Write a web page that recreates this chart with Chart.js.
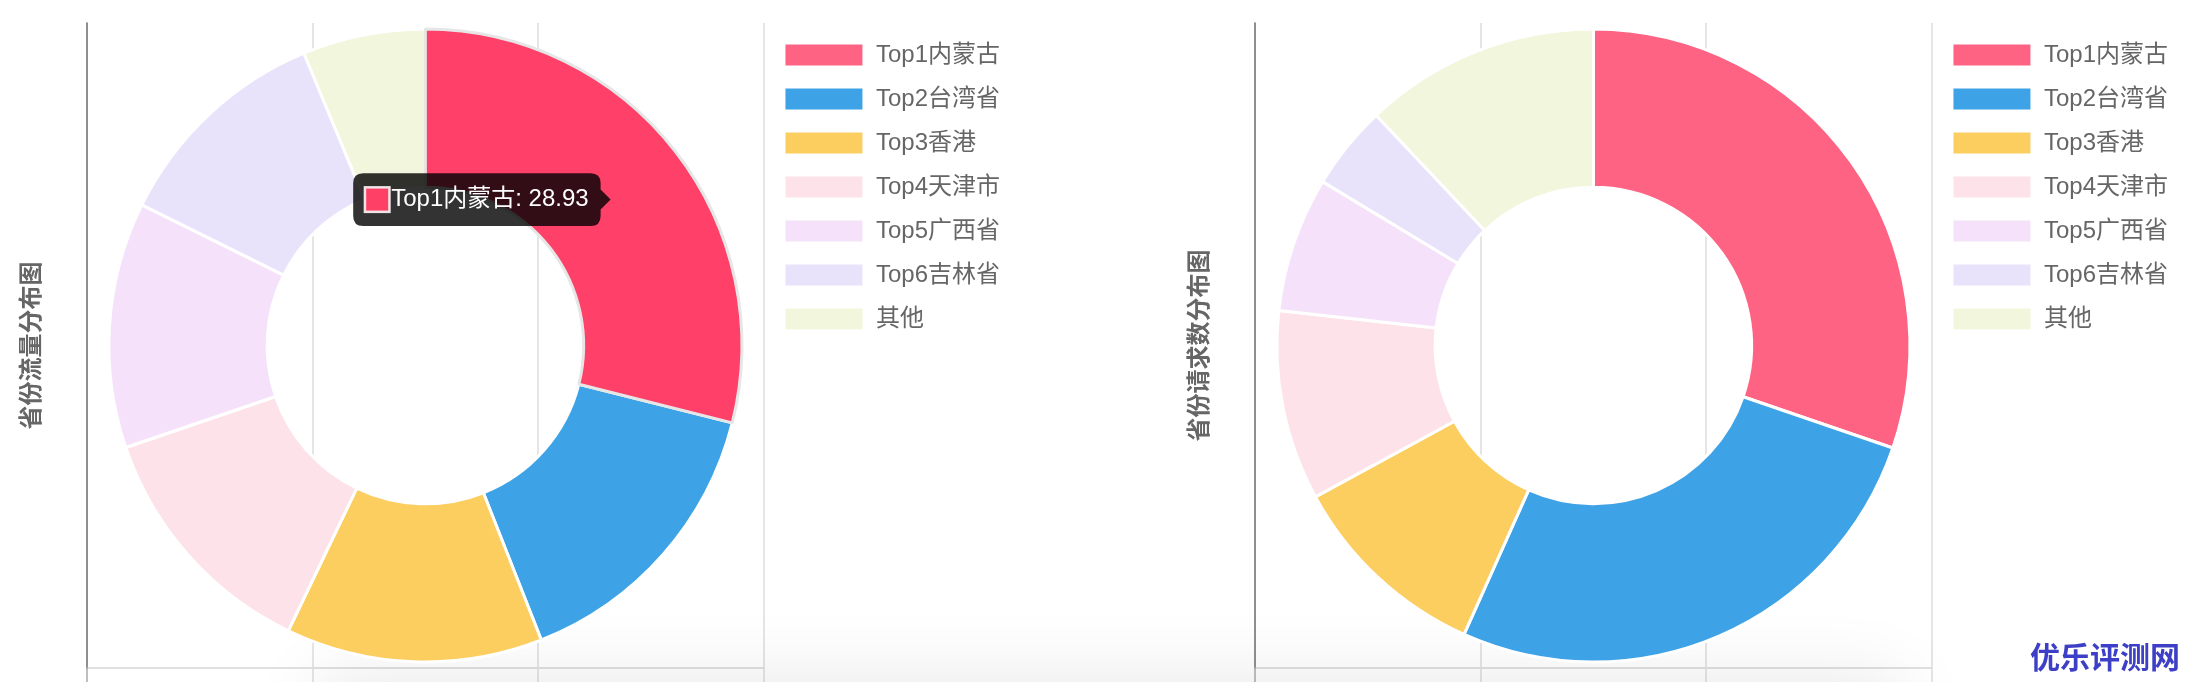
<!DOCTYPE html>
<html>
<head>
<meta charset="utf-8">
<script src="https://cdn.jsdelivr.net/npm/chart.js@4/dist/chart.umd.min.js"></script>
<style>
  html, body { margin: 0; padding: 0; background: #fff; overflow: hidden; }
  body { width: 2188px; height: 682px; position: relative; }
  .shade { position: absolute; left: 330px; top: 690px; width: 1560px; height: 200px;
           box-shadow: 0 0 70px 12px rgba(0,0,0,0.09); background: #f2f2f2; }
  .box { position: absolute; top: 0; width: 1010px; height: 682px; }
  .mark { position: absolute; left: 2030px; top: 633px; font: bold 30px "Noto Sans CJK SC", sans-serif;
          color: #3d3fc6; letter-spacing: 0; }
</style>
</head>
<body>
<div class="shade"></div>
<div class="box" style="left:0"><canvas id="chart-1" width="1010" height="682"></canvas></div>
<div class="box" style="left:1168px"><canvas id="chart-2" width="1010" height="682"></canvas></div>
<div class="mark">优乐评测网</div>
<script>
// provinces, top 6 + rest (percent)
const provinces = ['Top1内蒙古', 'Top2台湾省', 'Top3香港', 'Top4天津市', 'Top5广西省', 'Top6吉林省', '其他'];
const trafficShare = [28.93, 15.1, 13.1, 12.65, 12.55, 11.4, 6.27];
const requestShare = [30.25, 26.45, 10.36, 9.7, 6.9, 4.3, 12.04];
const sliceColors = ['#ff6384', '#3ea2e6', '#fccd5f', '#fde3e9', '#f5e2fa', '#e8e3fa', '#f2f6dd'];
const axisTitles = ['省份流量分布图', '省份请求数分布图'];

const fontFamily = "'Liberation Sans', Helvetica, Arial, 'Noto Sans CJK SC', sans-serif";
Chart.defaults.font.family = fontFamily;
Chart.defaults.color = '#666';

function makeChart(id, values, title, showTip) {
    var ctx = document.getElementById(id).getContext('2d');
    var chart = new Chart(ctx, {
        type: 'doughnut',
        data: {
            labels: provinces,
            datasets: [{
                data: values,
                backgroundColor: sliceColors,
                borderColor: '#fff',
                borderWidth: 3,
                hoverBorderWidth: 3,
                hoverOffset: 0
            }]
        },
        options: {
            responsive: false,
            devicePixelRatio: 1,
            animation: false,
            cutout: '50%',
            radius: '98.6%',
            layout: { padding: { left: 9, top: 23, right: 0, bottom: 0 } },
            scales: {
                x: {
                    type: 'linear',
                    position: 'bottom',
                    min: 0,
                    max: 3,
                    ticks: { display: false, stepSize: 1 },
                    grid: {
                        color: (c) => c.index === 0 ? 'rgba(0,0,0,0.25)' : 'rgba(0,0,0,0.1)',
                        lineWidth: 2,
                        tickLength: 14
                    },
                    border: { color: 'rgba(0,0,0,0.12)', width: 2 }
                },
                y: {
                    type: 'linear',
                    position: 'left',
                    ticks: { display: false },
                    grid: { display: false, drawTicks: false },
                    border: { color: 'rgba(0,0,0,0.25)', width: 2 },
                    title: {
                        display: true,
                        text: title,
                        color: '#666',
                        font: { size: 24, weight: 'bold' },
                        padding: { top: 9, bottom: 40 }
                    }
                }
            },
            plugins: {
                legend: {
                    position: 'right',
                    align: 'start',
                    labels: {
                        boxWidth: 80,
                        boxHeight: 24,
                        padding: 20,
                        color: '#666',
                        font: { size: 24 }
                    }
                },
                tooltip: {
                    enabled: true,
                    backgroundColor: 'rgba(0,0,0,0.8)',
                    bodyFont: { size: 24 },
                    bodyColor: '#fff',
                    padding: 12,
                    cornerRadius: 10,
                    caretSize: 10,
                    caretPadding: 2,
                    boxWidth: 24,
                    boxHeight: 24,
                    boxPadding: 0,
                    xAlign: 'right',
                    yAlign: 'center',
                    callbacks: {
                        title: () => '',
                        label: (item) => item.label + ': ' + item.formattedValue,
                        labelColor: () => ({ borderColor: '#f1e4e8', backgroundColor: '#ff4066', borderWidth: 3 })
                    }
                }
            }
        }
    });
    if (showTip) {
        chart.setActiveElements([{ datasetIndex: 0, index: 0 }]);
        chart.tooltip.setActiveElements([{ datasetIndex: 0, index: 0 }], { x: 600, y: 200 });
        chart.update();
    }
    return chart;
}

makeChart('chart-1', trafficShare, axisTitles[0], true);
makeChart('chart-2', requestShare, axisTitles[1], false);
</script>
</body>
</html>
